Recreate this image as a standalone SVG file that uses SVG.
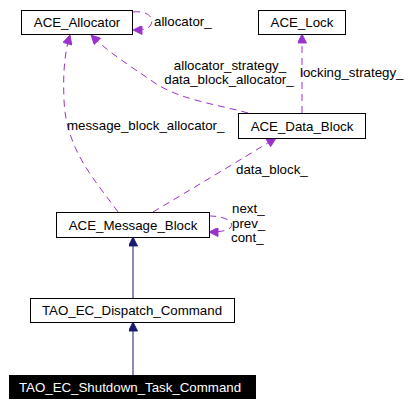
<svg xmlns="http://www.w3.org/2000/svg" width="414" height="407" viewBox="0 0 414 407">
<style>
.box{fill:#fff;stroke:#000;stroke-width:1}
.t{font-family:"Liberation Sans",Arial,sans-serif;font-size:13.3px;fill:#000;text-anchor:middle}
.lbl{font-family:"Liberation Sans",Arial,sans-serif;font-size:13.3px;fill:#000}
.use{fill:none;stroke:#9a32cd;stroke-width:1;stroke-dasharray:7,5}
.inh{fill:none;stroke:#191970;stroke-width:1}
</style>
<defs>
<marker id="ap" viewBox="0 0 10 10" refX="10" refY="5" markerUnits="userSpaceOnUse" markerWidth="12" markerHeight="9" orient="auto"><path d="M0,0 L10,5 L0,10 z" fill="#9a32cd" stroke="#9a32cd"/></marker>
<marker id="ab" viewBox="0 0 10 10" refX="10" refY="5" markerUnits="userSpaceOnUse" markerWidth="11" markerHeight="9" orient="auto"><path d="M0,0 L10,5 L0,10 z" fill="#191970" stroke="#191970"/></marker>
</defs>
<g id="connectors">
<path class="inh" d="M133,298 L133,237" marker-end="url(#ab)"/>
<path class="inh" d="M133,375 L133,322" marker-end="url(#ab)"/>
<path class="use" d="M118,212 C95,180 66,150 64,100 C63,75 64,55 70,35" marker-end="url(#ap)"/>
<path class="use" d="M248,113 C220,105 180,100 155,83 C130,66 108,52 91,35" marker-end="url(#ap)"/>
<path class="use" d="M302,113 L302,34" marker-end="url(#ap)"/>
<path class="use" d="M153,212 C190,190 240,160 276,138" marker-end="url(#ap)"/>
<path class="use" d="M133,12 C150,10 155,20 150,26 C147,29 143,30 133,30" marker-end="url(#ap)"/>
<path class="use" d="M209,216 C225,216 236,222 230,228 C226,231 220,232 209,232" marker-end="url(#ap)"/>
<text class="lbl" x="154" y="26">allocator_</text>
<text class="lbl" x="230" y="70" text-anchor="middle">allocator_strategy_</text>
<text class="lbl" x="229" y="84" text-anchor="middle">data_block_allocator_</text>
<text class="lbl" x="300" y="77">locking_strategy_</text>
<text class="lbl" x="67" y="130">message_block_allocator_</text>
<text class="lbl" x="236" y="174">data_block_</text>
<text class="lbl" x="232" y="213">next_</text>
<text class="lbl" x="232" y="228">prev_</text>
<text class="lbl" x="231" y="242">cont_</text>
</g>
<g id="ACE_Allocator"><rect class="box" x="21.5" y="10.5" width="111" height="24"/><text class="t" x="77" y="27">ACE_Allocator</text></g>
<g id="ACE_Lock"><rect class="box" x="258.5" y="10.5" width="87" height="24"/><text class="t" x="302" y="27">ACE_Lock</text></g>
<g id="ACE_Data_Block"><rect class="box" x="238.5" y="113.5" width="127" height="25"/><text class="t" x="302" y="131">ACE_Data_Block</text></g>
<g id="ACE_Message_Block"><rect class="box" x="56.5" y="212.5" width="153" height="25"/><text class="t" x="133" y="230">ACE_Message_Block</text></g>
<g id="TAO_EC_Dispatch_Command"><rect class="box" x="30.5" y="298.5" width="204" height="24"/><text class="t" x="132" y="315">TAO_EC_Dispatch_Command</text></g>
<g id="TAO_EC_Shutdown_Task_Command"><rect x="9" y="375" width="247" height="24" fill="#000"/><text class="t" x="130" y="392" style="fill:#fff">TAO_EC_Shutdown_Task_Command</text></g>
</svg>
